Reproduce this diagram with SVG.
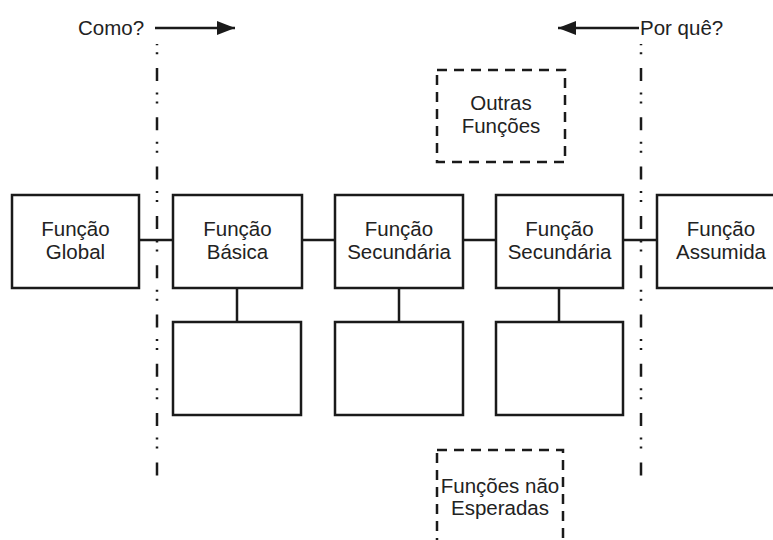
<svg xmlns="http://www.w3.org/2000/svg" width="773" height="540" viewBox="0 0 773 540">
  <style>
    .box { fill: #ffffff; stroke: #1a1a1a; stroke-width: 2.5; }
    .dbox { fill: none; stroke: #1a1a1a; stroke-width: 2.5; stroke-dasharray: 10 7; }
    .link { stroke: #1a1a1a; stroke-width: 2.5; fill: none; }
    .guide { stroke: #1a1a1a; stroke-width: 2.5; stroke-dasharray: 13 11.5 2 7 2 13.8; stroke-dashoffset: 25.3; }
    .arrow { stroke: #1a1a1a; stroke-width: 2.5; fill: none; }
    .lbl { font-family: "Liberation Sans", Arial, sans-serif; font-size: 20.5px; fill: #222222; text-anchor: middle; }
    .side { font-family: "Liberation Sans", Arial, sans-serif; font-size: 20.5px; fill: #222222; }
  </style>
  <defs>
    <marker id="head" viewBox="0 0 18 14" refX="18" refY="7" markerWidth="18" markerHeight="14" markerUnits="userSpaceOnUse" orient="auto">
      <path d="M0,0 L18,7 L0,14 Z" fill="#1a1a1a"/>
    </marker>
  </defs>

  <rect width="773" height="540" fill="#ffffff"/>

  <!-- direction hints -->
  <g id="how">
    <text class="side" x="78" y="35">Como?</text>
    <line class="arrow" x1="155" y1="28" x2="235" y2="28" marker-end="url(#head)"/>
  </g>
  <g id="why">
    <text class="side" x="640" y="35">Por quê?</text>
    <line class="arrow" x1="639" y1="28" x2="558" y2="28" marker-end="url(#head)"/>
  </g>

  <!-- scope boundaries -->
  <g id="boundaries">
    <line class="guide" x1="157" y1="44" x2="157" y2="476"/>
    <line class="guide" x1="641" y1="44" x2="641" y2="476"/>
  </g>

  <!-- connectors -->
  <g id="connectors">
    <line class="link" x1="139" y1="240" x2="173" y2="240"/>
    <line class="link" x1="302" y1="240" x2="335" y2="240"/>
    <line class="link" x1="463" y1="240" x2="496" y2="240"/>
    <line class="link" x1="623" y1="240" x2="657" y2="240"/>
    <line class="link" x1="237" y1="288" x2="237" y2="322"/>
    <line class="link" x1="399" y1="288" x2="399" y2="322"/>
    <line class="link" x1="559" y1="288" x2="559" y2="322"/>
  </g>

  <!-- main function chain -->
  <g id="funcao-global">
    <rect class="box" x="12" y="195" width="127" height="93"/>
    <text class="lbl" x="75.5" y="236">Função</text>
    <text class="lbl" x="75.5" y="259">Global</text>
  </g>
  <g id="funcao-basica">
    <rect class="box" x="173" y="195" width="129" height="93"/>
    <text class="lbl" x="237.5" y="236">Função</text>
    <text class="lbl" x="237.5" y="259">Básica</text>
  </g>
  <g id="funcao-secundaria-1">
    <rect class="box" x="335" y="195" width="128" height="93"/>
    <text class="lbl" x="399" y="236">Função</text>
    <text class="lbl" x="399" y="259">Secundária</text>
  </g>
  <g id="funcao-secundaria-2">
    <rect class="box" x="496" y="195" width="127" height="93"/>
    <text class="lbl" x="559.5" y="236">Função</text>
    <text class="lbl" x="559.5" y="259">Secundária</text>
  </g>
  <g id="funcao-assumida">
    <rect class="box" x="657" y="195" width="128" height="93"/>
    <text class="lbl" x="721" y="236">Função</text>
    <text class="lbl" x="721" y="259">Assumida</text>
  </g>

  <!-- empty sub-function boxes -->
  <g id="sub-basica">
    <rect class="box" x="173" y="322" width="128" height="93"/>
  </g>
  <g id="sub-secundaria-1">
    <rect class="box" x="335" y="322" width="128" height="93"/>
  </g>
  <g id="sub-secundaria-2">
    <rect class="box" x="496" y="322" width="127" height="93"/>
  </g>

  <!-- dashed side groups -->
  <g id="outras-funcoes">
    <rect class="dbox" x="437" y="70" width="128" height="92"/>
    <text class="lbl" x="501" y="110">Outras</text>
    <text class="lbl" x="501" y="133">Funções</text>
  </g>
  <g id="funcoes-nao-esperadas">
    <rect class="dbox" x="437" y="450" width="126" height="110"/>
    <text class="lbl" x="500" y="493">Funções não</text>
    <text class="lbl" x="500" y="515">Esperadas</text>
  </g>
</svg>
